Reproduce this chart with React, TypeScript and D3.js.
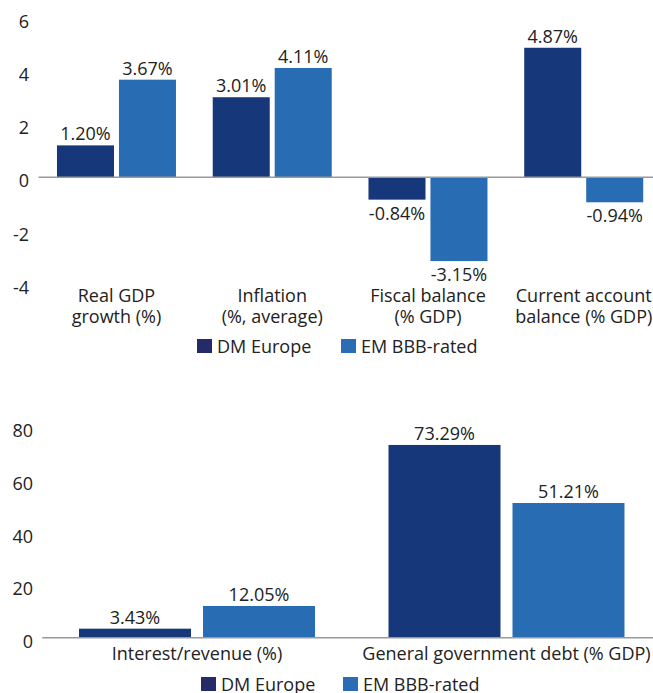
import React from "react";
import * as d3 from "d3";

const topCategories = [
  ["Real GDP", "growth (%)"],
  ["Inflation", "(%, average)"],
  ["Fiscal balance", "(% GDP)"],
  ["Current account", "balance (% GDP)"],
];
const topDM = [1.2, 3.01, -0.84, 4.87];
const topEM = [3.67, 4.11, -3.15, -0.94];
const topTicks = [6, 4, 2, 0, -2, -4];

const bottomCategories = ["Interest/revenue (%)", "General government debt (% GDP)"];
const bottomDM = [3.43, 73.29];
const bottomEM = [12.05, 51.21];
const bottomTicks = [80, 60, 40, 20, 0];

const seriesNames = ["DM Europe", "EM BBB-rated"];

const DM_COLOR = "#17377b";
const EM_COLOR = "#286cb4";
const DM_LEGEND = "#252b69";
const EM_LEGEND = "#2a6db5";
const TEXT = "#222";
const FONT = "'Open Sans', sans-serif";
const FS = 18;

const fmt = (v: number) => v.toFixed(2) + "%";

type PanelProps = {
  cats: string[][];
  dm: number[];
  em: number[];
  ticks: number[];
  domain: [number, number];
  yRange: [number, number];
  xRange: [number, number];
  padInner: number;
  barPad: number;
  tickRight: number;
  labelY: number;
  legendX: [number, number];
  legendY: number;
};

function Panel(p: PanelProps) {
  const n = p.cats.length;
  const x0 = d3
    .scaleBand<number>()
    .domain(d3.range(n))
    .range(p.xRange)
    .paddingInner(p.padInner)
    .paddingOuter(p.padInner / 2);
  const x1 = d3
    .scaleBand<number>()
    .domain([0, 1])
    .range([0, x0.bandwidth()])
    .paddingInner(p.barPad)
    .paddingOuter(0);
  const y = d3.scaleLinear().domain(p.domain).range(p.yRange);
  const zeroY = y(0);
  const series = [
    { vals: p.dm, color: DM_COLOR },
    { vals: p.em, color: EM_COLOR },
  ];
  return (
    <g>
      {p.ticks.map((t) => (
        <text
          key={"t" + t}
          x={p.tickRight}
          y={y(t) + 10}
          textAnchor="end"
          fontSize={FS}
          fill={TEXT}
        >
          {t}
        </text>
      ))}
      {series.map((s, si) =>
        s.vals.map((v, i) => {
          const bx = (x0(i) as number) + (x1(si) as number);
          const top = Math.min(y(v), zeroY);
          const h = Math.abs(y(v) - zeroY);
          return (
            <g key={`b${si}-${i}`}>
              <rect x={bx} y={top} width={x1.bandwidth()} height={h} fill={s.color} />
              <text
                x={bx + x1.bandwidth() / 2}
                y={v >= 0 ? y(v) - 5 : y(v) + 20}
                textAnchor="middle"
                fontSize={FS}
                fill={TEXT}
              >
                {fmt(v)}
              </text>
            </g>
          );
        })
      )}
      <line
        x1={p.xRange[0]}
        x2={p.xRange[1]}
        y1={zeroY}
        y2={zeroY}
        stroke="#999"
        strokeWidth={1.5}
      />
      {p.cats.map((lines, i) => (
        <text
          key={"c" + i}
          x={(x0(i) as number) + x0.bandwidth() / 2}
          y={p.labelY}
          textAnchor="middle"
          fontSize={FS}
          fill={TEXT}
        >
          {lines.map((l, li) => (
            <tspan key={li} x={(x0(i) as number) + x0.bandwidth() / 2} dy={li === 0 ? 0 : 21}>
              {l}
            </tspan>
          ))}
        </text>
      ))}
      {seriesNames.map((name, si) => (
        <g key={"l" + si}>
          <rect
            x={p.legendX[si]}
            y={p.legendY - 14}
            width={15}
            height={14}
            fill={si === 0 ? DM_LEGEND : EM_LEGEND}
          />
          <text x={p.legendX[si] + 20} y={p.legendY} fontSize={FS} fill={TEXT}>
            {name}
          </text>
        </g>
      ))}
    </g>
  );
}

export default function App() {
  return (
    <svg
      width={653}
      height={693}
      style={{ position: "absolute", left: 0, top: 0, fontFamily: FONT }}
    >
      <rect width={653} height={693} fill="#fff" />
      <Panel
        cats={topCategories}
        dm={topDM}
        em={topEM}
        ticks={topTicks}
        domain={[-4, 6]}
        yRange={[283.7, 17.7]}
        xRange={[38.6, 661.6]}
        padInner={0.236}
        barPad={0.08}
        tickRight={29}
        labelY={302}
        legendX={[197, 341]}
        legendY={353}
      />
      <Panel
        cats={bottomCategories.map((c) => [c])}
        dm={bottomDM}
        em={bottomEM}
        ticks={bottomTicks}
        domain={[0, 80]}
        yRange={[637.7, 427.3]}
        xRange={[42.25, 661.25]}
        padInner={0.2375}
        barPad={0.0968}
        tickRight={33}
        labelY={660}
        legendX={[201, 343]}
        legendY={691}
      />
    </svg>
  );
}
